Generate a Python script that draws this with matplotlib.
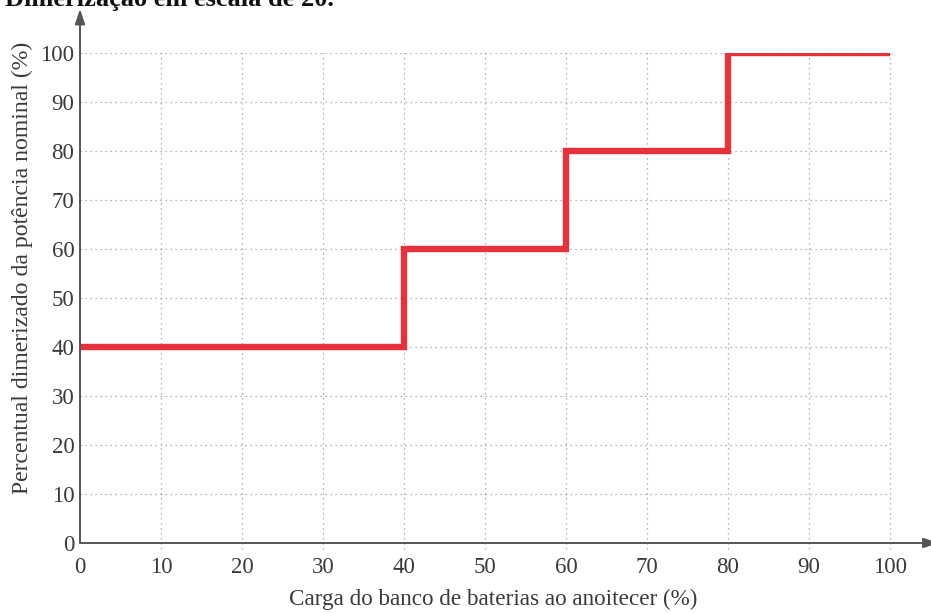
import matplotlib
matplotlib.use("Agg")
import matplotlib.pyplot as plt

# Battery charge at dusk (%) vs. dimmed share of nominal power (%)
carga = [0, 40, 60, 80, 100]
potencia = [40, 60, 80, 100, 100]
ticks = [0, 10, 20, 30, 40, 50, 60, 70, 80, 90, 100]

plt.rcParams['font.family'] = ['Liberation Serif', 'DejaVu Serif']
text_color = '#3a3a3a'

fig = plt.figure(figsize=(9.31, 6.13), dpi=100)
ax = fig.add_axes([80 / 931, 70 / 613, 810 / 931, 490 / 613])
ax.set_xlim(0, 100)
ax.set_ylim(0, 100)

# dotted grid, running slightly below the horizontal axis
for t in ticks[1:]:
    ax.plot([t, t], [-1.2, 100], ls=(0, (1, 3)), color='#9a9a9a', lw=0.9,
            clip_on=False, zorder=1)
    ax.plot([0, 100], [t, t], ls=(0, (1, 3)), color='#9a9a9a', lw=0.9,
            zorder=1)

ax.plot(carga, potencia, drawstyle='steps-post', color='#e8313a', lw=4.6,
        solid_joinstyle='miter', solid_capstyle='butt', zorder=3)

for s in ax.spines.values():
    s.set_visible(False)

# axes drawn as arrows
arrow = dict(arrowstyle='-|>,head_length=0.9,head_width=0.3', color='#555555',
             lw=1.4, shrinkA=0, shrinkB=0)
ax.annotate('', xy=(0, 109), xytext=(0, 0), arrowprops=arrow,
            annotation_clip=False, zorder=4)
ax.annotate('', xy=(106, 0), xytext=(0, 0), arrowprops=arrow,
            annotation_clip=False, zorder=4)

ax.set_xticks(ticks)
ax.set_yticks(ticks)
ax.tick_params(length=0, labelsize=16.5, labelcolor=text_color, pad=4)
ax.tick_params(axis='x', pad=10)

ax.set_xlabel('Carga do banco de baterias ao anoitecer (%)', fontsize=16.7,
              color=text_color)
ax.xaxis.set_label_coords(0.51, -0.093)
ax.set_ylabel('Percentual dimerizado da potência nominal (%)', fontsize=17.1,
              color=text_color)
ax.yaxis.set_label_coords(-0.058, 0.561)

fig.text(0.005, 1.0 - 6 / 613, 'Dimerização em escala de 20.', fontsize=19,
         fontweight='bold', color='#111111', va='baseline', ha='left')

fig.savefig('out.png', dpi=100)
